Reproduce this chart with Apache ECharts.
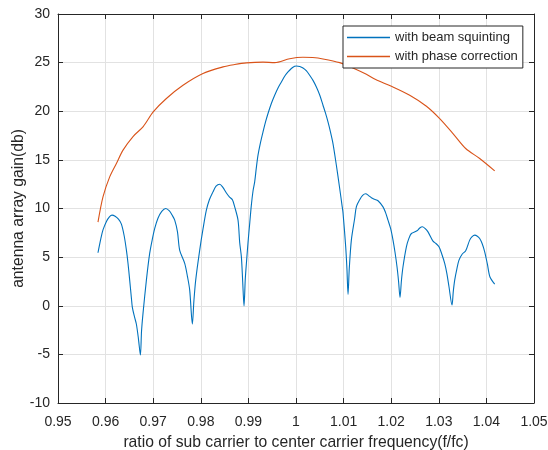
<!DOCTYPE html>
<html>
<head>
<meta charset="utf-8">
<title>Antenna array gain</title>
<script src="https://cdn.jsdelivr.net/npm/echarts@6/dist/echarts.min.js"></script>
<style>
  html, body { margin: 0; padding: 0; background: #ffffff; }
  #chart { width: 548px; height: 450px; }
</style>
</head>
<body>
<div id="chart"></div>
<script>
// Sub-carrier frequency ratio (f/fc) and array gain (dB) without correction
const beamFreq = [
  0.9584, 0.9590, 0.95945, 0.9602, 0.9608, 0.96135, 0.9620, 0.9627, 0.96332, 0.9639,
  0.96437, 0.9647, 0.96506, 0.9654, 0.96563, 0.9661, 0.96647, 0.9669, 0.96731, 0.96755,
  0.96786, 0.96857, 0.96926, 0.9698, 0.97032, 0.9710, 0.9718, 0.97263, 0.9734, 0.9740,
  0.97452, 0.9751, 0.97557, 0.97662, 0.9772, 0.97767, 0.97823, 0.97855, 0.97893, 0.97977,
  0.9805, 0.98117, 0.9818, 0.98256, 0.9832, 0.98397, 0.9846, 0.98538, 0.98600, 0.98664,
  0.98712, 0.98782, 0.98817, 0.98853, 0.9888, 0.98908, 0.98935, 0.98965, 0.98992, 0.99030,
  0.99062, 0.99097, 0.99132, 0.99167, 0.99202, 0.99255, 0.99307, 0.99360, 0.99412, 0.99482,
  0.99552, 0.99622, 0.99693, 0.99762, 0.99832, 0.99902, 0.99972, 1.0001, 1.0008, 1.00147,
  1.0022, 1.00287, 1.0036, 1.00428, 1.0050, 1.00567, 1.0062, 1.00672, 1.00725, 1.00777,
  1.00848, 1.00918, 1.00966, 1.00987, 1.01044, 1.01070, 1.01093, 1.01120, 1.01164, 1.01233,
  1.01269, 1.01338, 1.01400, 1.01464, 1.01520, 1.01584, 1.01650, 1.01723, 1.01828, 1.01880,
  1.01933, 1.01990, 1.02038, 1.02080, 1.02122, 1.02155, 1.02185, 1.02215, 1.02248, 1.02319,
  1.02370, 1.02424, 1.02542, 1.02600, 1.02655, 1.0271, 1.02773, 1.02878, 1.02940, 1.03004,
  1.03064, 1.03124, 1.03170, 1.03214, 1.03277, 1.03305, 1.03334, 1.03380, 1.03424, 1.03490,
  1.03565, 1.03649, 1.03700, 1.03754, 1.03810, 1.03859, 1.03910, 1.03964, 1.04020, 1.04075,
  1.04174
];
const beamGain = [
  5.45, 6.9, 7.8, 8.7, 9.15, 9.32, 9.2, 8.9, 8.4, 7.2,
  5.72, 4.4, 2.64, 0.9, -0.2, -1.2, -1.9, -3.4, -5.07, -2.6,
  -0.78, 2.64, 5.38, 6.8, 7.95, 9.0, 9.7, 10.0, 9.75, 9.3,
  8.8, 7.6, 5.7, 4.36, 3.0, 1.61, -1.88, 0.5, 2.64, 5.72,
  8.0, 9.83, 10.9, 11.71, 12.3, 12.5, 12.2, 11.6, 11.2, 10.9,
  10.17, 8.8, 6.5, 5.0, 2.5, -0.03, 2.8, 4.8, 6.5, 8.6,
  10.35, 11.8, 12.74, 14.2, 15.48, 16.8, 17.88, 18.9, 19.77, 20.8,
  21.65, 22.4, 23.01, 23.6, 24.04, 24.4, 24.63, 24.66, 24.6, 24.45,
  24.15, 23.7, 23.15, 22.5, 21.65, 20.62, 19.8, 18.9, 17.85, 16.68,
  14.45, 12.06, 10.35, 9.6, 6.06, 3.8, 1.17, 3.9, 6.8, 9.0,
  10.2, 10.9, 11.35, 11.52, 11.35, 11.1, 10.95, 10.8, 10.17, 9.6,
  8.8, 7.9, 6.75, 5.5, 4.01, 2.5, 0.86, 2.6, 4.01, 6.06,
  6.9, 7.43, 7.71, 8.0, 8.12, 7.95, 7.6, 6.65, 6.4, 6.06,
  5.3, 4.35, 3.3, 1.95, 0.07, 1.5, 2.64, 3.8, 4.69, 5.3,
  5.65, 6.75, 7.1, 7.26, 7.15, 6.92, 6.4, 5.55, 4.3, 2.95,
  2.23
];

// Array gain (dB) after phase correction
const phaseFreq = [
  0.9584, 0.95945, 0.96086, 0.96227, 0.96366, 0.96576, 0.9679, 0.9700, 0.97277, 0.97626,
  0.98046, 0.98466, 0.98712, 0.98958, 0.99307, 0.99552, 0.99867, 1.00147, 1.0035, 1.00567,
  1.00918, 1.01197, 1.01478, 1.01674, 1.02004, 1.02389, 1.0274, 1.03019, 1.03298, 1.03565,
  1.03859, 1.04174
];
const phaseGain = [
  8.6, 11.2, 13.25, 14.63, 16.0, 17.4, 18.42, 19.93, 21.31, 22.67,
  23.88, 24.56, 24.8, 24.97, 25.05, 25.0, 25.4, 25.55, 25.52, 25.38,
  25.0, 24.45, 23.8, 23.26, 22.57, 21.65, 20.52, 19.25, 17.71, 16.17,
  15.14, 13.87
];

const seriesNames = ['with beam squinting', 'with phase correction'];
const xLabel = 'ratio of sub carrier to center carrier frequency(f/fc)';
const yLabel = 'antenna array gain(db)';

const pairs = (xs, ys) => xs.map((x, i) => [x, ys[i]]);

const ink = '#262626';
const gridColor = '#e2e2e2';
const fontFamily = '"Liberation Sans", Arial, Helvetica, sans-serif';

// Top and right axes only close the box and carry inward ticks
const boxAxis = {
  axisLine: { show: true, onZero: false, lineStyle: { color: ink, width: 1 } },
  axisTick: { show: true, inside: true, length: 5, lineStyle: { color: ink } },
  axisLabel: { show: false },
  splitLine: { show: false }
};

const chart = echarts.init(document.getElementById('chart'), null, { renderer: 'canvas' });

chart.setOption({
  animation: false,
  backgroundColor: '#ffffff',
  textStyle: { fontFamily: fontFamily },
  grid: { left: 58, right: 14, top: 14, bottom: 47, containLabel: false, outerBoundsMode: 'none' },
  legend: {
    orient: 'vertical',
    left: 343,
    top: 26,
    padding: [5, 5, 5, 4],
    icon: 'rect',
    itemWidth: 43,
    itemHeight: 1.3,
    itemGap: 6,
    backgroundColor: '#ffffff',
    borderColor: ink,
    borderWidth: 1,
    borderRadius: 0,
    textStyle: { color: ink, fontSize: 13, fontFamily: fontFamily },
    data: seriesNames
  },
  xAxis: [
    {
      type: 'value',
      min: 0.95,
      max: 1.05,
      interval: 0.01,
      position: 'bottom',
      name: xLabel,
      nameLocation: 'middle',
      nameGap: 32,
      nameMoveOverlap: false,
      nameTextStyle: { color: ink, fontSize: 15.7, fontFamily: fontFamily },
      axisLine: { show: true, onZero: false, lineStyle: { color: ink, width: 1 } },
      axisTick: { show: true, inside: true, length: 5, lineStyle: { color: ink } },
      axisLabel: {
        color: ink, fontSize: 14, margin: 12, fontFamily: fontFamily,
        formatter: v => String(Number(v.toFixed(2)))
      },
      splitLine: { show: true, lineStyle: { color: gridColor, width: 1 } }
    },
    Object.assign({ type: 'value', min: 0.95, max: 1.05, interval: 0.01, position: 'top' }, boxAxis)
  ],
  yAxis: [
    {
      type: 'value',
      min: -10,
      max: 30,
      interval: 5,
      position: 'left',
      name: yLabel,
      nameLocation: 'middle',
      nameGap: 31,
      nameMoveOverlap: false,
      nameTextStyle: { color: ink, fontSize: 15.7, fontFamily: fontFamily },
      axisLine: { show: true, onZero: false, lineStyle: { color: ink, width: 1 } },
      axisTick: { show: true, inside: true, length: 5, lineStyle: { color: ink } },
      axisLabel: { color: ink, fontSize: 14, margin: 8, fontFamily: fontFamily },
      splitLine: { show: true, lineStyle: { color: gridColor, width: 1 } }
    },
    Object.assign({ type: 'value', min: -10, max: 30, interval: 5, position: 'right' }, boxAxis)
  ],
  series: [
    {
      name: seriesNames[0],
      type: 'line',
      xAxisIndex: 0,
      yAxisIndex: 0,
      symbol: 'none',
      smooth: 0.3,
      data: pairs(beamFreq, beamGain),
      lineStyle: { color: '#0072BD', width: 1.1 },
      itemStyle: { color: '#0072BD' },
      z: 3
    },
    {
      name: seriesNames[1],
      type: 'line',
      xAxisIndex: 0,
      yAxisIndex: 0,
      symbol: 'none',
      smooth: 0.3,
      data: pairs(phaseFreq, phaseGain),
      lineStyle: { color: '#D95319', width: 1.1 },
      itemStyle: { color: '#D95319' },
      z: 2
    }
  ]
});
</script>
</body>
</html>
